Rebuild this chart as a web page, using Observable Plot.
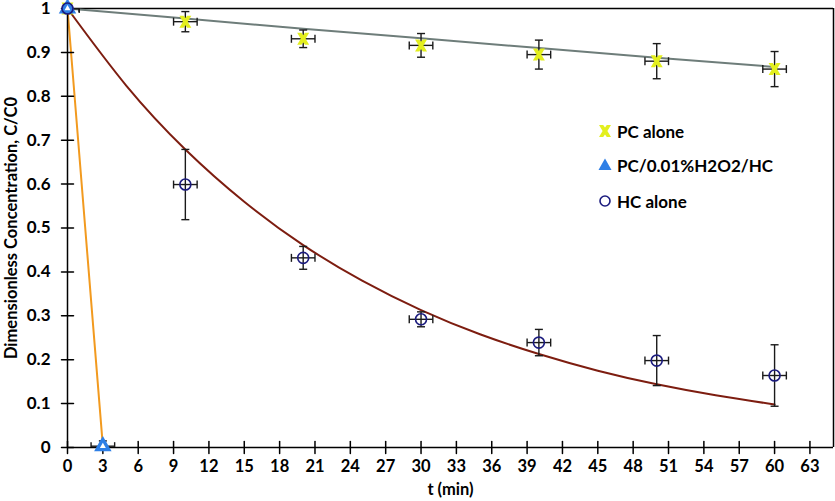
<!DOCTYPE html>
<html>
<head>
<meta charset="utf-8">
<script src="https://cdn.jsdelivr.net/npm/d3@7"></script>
<script src="https://cdn.jsdelivr.net/npm/@observablehq/plot@0.6"></script>
<style>
  html, body { margin: 0; padding: 0; background: #fff; }
  #wrap { position: relative; width: 835px; height: 501px; font-family: Lato, "DejaVu Sans", sans-serif; }
  #legend { position: absolute; left: 597px; top: 0; }
  .item { position: absolute; left: 0; width: 240px; height: 20px; display: flex; align-items: center; font-weight: bold; font-size: 17px; color: #000; white-space: nowrap; }
  .item svg { width: 16px; height: 16px; margin-right: 4px; }
</style>
</head>
<body>
<div id="wrap"><div id="chart"></div><div id="legend"></div></div>
<script>
// ---- data ----
const pcT = [0, 10, 20, 30, 40, 50, 60];
const pcAlone = [1, 0.970, 0.931, 0.916, 0.895, 0.880, 0.862];
const pcAloneErr = [0.005, 0.023, 0.020, 0.027, 0.033, 0.040, 0.040];

const hcT = [0, 10, 20, 30, 40, 50, 60];
const hcAlone = [1, 0.599, 0.432, 0.292, 0.239, 0.198, 0.164];
const hcAloneErr = [0.005, 0.080, 0.026, 0.017, 0.030, 0.057, 0.070];

const comboT = [0, 3];
const combo = [1, 0.003];
const comboErr = [0.005, 0.012];

const tErr = [1, 1, 1, 1, 1, 1, 1];

const pcFitT = [0, 10, 20, 30, 40, 50, 60];
const pcFit = [1, 0.977, 0.954, 0.932, 0.910, 0.888, 0.867];

const hcFitT = [0, 5, 10, 15, 20, 25, 30, 35, 40, 45, 50, 55, 60];
const hcFit = [1, 0.824, 0.679, 0.560, 0.461, 0.380, 0.313, 0.258, 0.213, 0.175, 0.144, 0.119, 0.098];

const xTicks = [0, 3, 6, 9, 12, 15, 18, 21, 24, 27, 30, 33, 36, 39, 42, 45, 48, 51, 54, 57, 60, 63];
const yTicks = [0, 0.1, 0.2, 0.3, 0.4, 0.5, 0.6, 0.7, 0.8, 0.9, 1];
const yTickLabels = ["0", "0.1", "0.2", "0.3", "0.4", "0.5", "0.6", "0.7", "0.8", "0.9", "1"];

const seriesNames = ["PC alone", "PC/0.01%H2O2/HC", "HC alone"];
const xTitle = "t (min)";
const yTitle = "Dimensionless Concentration, C/C0";

// ---- styles ----
const yellow = "#E3EF1E";
const blue = "#2E7FE6";
const navy = "#1B1B7E";
const grey = "#6E7D7A";
const brown = "#7D1D10";
const orange = "#F29A1F";

const rows = (ts, vs, es) => ts.map((t, i) => ({t, v: vs[i], e: es[i], te: tErr[i]}));
const pc = rows(pcT, pcAlone, pcAloneErr);
const hc = rows(hcT, hcAlone, hcAloneErr);
const cb = rows(comboT, combo, comboErr);
const pcFitRows = pcFitT.map((t, i) => ({t, v: pcFit[i]}));
const hcFitRows = hcFitT.map((t, i) => ({t, v: hcFit[i]}));
const allPts = [...pc, ...hc, ...cb];

const rad = size => Math.sqrt(size / Math.PI);
const hourglass = {
  draw(c, size) {
    const r = rad(size);
    c.moveTo(-r, -r); c.lineTo(-r * 0.3, -r); c.lineTo(0, -r * 0.6); c.lineTo(r * 0.3, -r); c.lineTo(r, -r);
    c.lineTo(r * 0.4, 0); c.lineTo(r, r); c.lineTo(r * 0.3, r); c.lineTo(0, r * 0.6); c.lineTo(-r * 0.3, r);
    c.lineTo(-r, r); c.lineTo(-r * 0.4, 0); c.closePath();
  }
};
const hCap = { draw(c, size) { const r = rad(size); c.moveTo(-r, 0); c.lineTo(r, 0); } };
const vCap = { draw(c, size) { const r = rad(size); c.moveTo(0, -r); c.lineTo(0, r); } };
const tickShape = { draw(c, l) { c.moveTo(0, 0); c.lineTo(0, -l); } };

const errStroke = "#1a1a1a";
function errorMarks(data) {
  return [
    Plot.link(data, {x1: "t", x2: "t", y1: d => d.v - d.e, y2: d => d.v + d.e, stroke: errStroke, strokeWidth: 1.4, clip: true}),
    Plot.link(data, {x1: d => d.t - d.te, x2: d => d.t + d.te, y1: "v", y2: "v", stroke: errStroke, strokeWidth: 1.4, clip: true}),
    Plot.dot(data, {x: "t", y: d => d.v - d.e, symbol: hCap, r: 4, stroke: errStroke, strokeWidth: 1.4, clip: true}),
    Plot.dot(data, {x: "t", y: d => d.v + d.e, symbol: hCap, r: 4, stroke: errStroke, strokeWidth: 1.4, clip: true}),
    Plot.dot(data, {x: d => d.t - d.te, y: "v", symbol: vCap, r: 4, stroke: errStroke, strokeWidth: 1.4, clip: true}),
    Plot.dot(data, {x: d => d.t + d.te, y: "v", symbol: vCap, r: 4, stroke: errStroke, strokeWidth: 1.4, clip: true})
  ];
}

const chart = Plot.plot({
  width: 835,
  height: 501,
  marginLeft: 67,
  marginRight: 2,
  marginTop: 8,
  marginBottom: 54,
  style: {fontFamily: "Lato, 'DejaVu Sans', sans-serif", background: "#fff", overflow: "visible"},
  x: {domain: [0, 65]},
  y: {domain: [0, 1]},
  marks: [
    // frame: top and right
    Plot.ruleY([1], {stroke: "#000", strokeWidth: 1.5}),
    Plot.ruleX([65], {stroke: "#000", strokeWidth: 1.5}),
    // fitted curves
    Plot.line(pcFitRows, {x: "t", y: "v", stroke: grey, strokeWidth: 2}),
    Plot.line(hcFitRows, {x: "t", y: "v", stroke: brown, strokeWidth: 2, curve: "natural"}),
    Plot.line(cb, {x: "t", y: "v", stroke: orange, strokeWidth: 2}),
    // axes lines
    Plot.ruleY([0], {stroke: "#000", strokeWidth: 1.5}),
    Plot.ruleX([0], {stroke: "#000", strokeWidth: 1.5}),
    // crossing ticks
    Plot.vector(xTicks, {x: d => d, y: 0, length: 12, anchor: "middle", shape: tickShape, stroke: "#000", strokeWidth: 1.5}),
    Plot.vector(yTicks, {x: 0, y: d => d, length: 12, rotate: 90, anchor: "middle", shape: tickShape, stroke: "#000", strokeWidth: 1.5}),
    Plot.axisX({ticks: xTicks, tickSize: 0, tickPadding: 13, fontSize: 16.5, fontWeight: "bold", fill: "#000", label: null}),
    Plot.axisY({ticks: yTicks, tickSize: 0, tickPadding: 17, fontSize: 17, fontWeight: "bold", fill: "#000", label: null, tickFormat: (d, i) => yTickLabels[i]}),
    // titles
    Plot.text([xTitle], {frameAnchor: "bottom", dy: 47, fontSize: 16.5, fontWeight: "bold", fill: "#000"}),
    Plot.text([yTitle], {frameAnchor: "left", textAnchor: "middle", dx: -56, rotate: -90, fontSize: 16.5, fontWeight: "bold", fill: "#000"}),
    // error bars
    ...errorMarks(allPts),
    // markers
    Plot.dot(pc, {x: "t", y: "v", symbol: hourglass, r: 6, fill: yellow}),
    Plot.dot(cb, {x: "t", y: "v", symbol: "triangle", r: 6.5, fill: blue}),
    Plot.dot(cb, {x: "t", y: "v", symbol: "triangle", r: 2.2, fill: "#fff"}),
    Plot.dot(hc, {x: "t", y: "v", symbol: "circle", r: 5.5, fill: "none", stroke: navy, strokeWidth: 1.6})
  ]
});
document.getElementById("chart").appendChild(chart);

// legend overlay
const legendTops = [121, 155, 191];
const legendIcons = [
  `<svg viewBox="-8 -8 16 16"><path d="M-6,-6L-1.8,-6L0,-3.6L1.8,-6L6,-6L2.4,0L6,6L1.8,6L0,3.6L-1.8,6L-6,6L-2.4,0Z" fill="${yellow}"/></svg>`,
  `<svg viewBox="-8 -8 16 16"><path d="M0,-6.5L6.5,5L-6.5,5Z" fill="${blue}"/></svg>`,
  `<svg viewBox="-8 -8 16 16"><circle r="5" fill="none" stroke="${navy}" stroke-width="1.6"/></svg>`
];
const legend = document.getElementById("legend");
seriesNames.forEach((name, i) => {
  const div = document.createElement("div");
  div.className = "item";
  div.style.top = legendTops[i] + "px";
  div.innerHTML = legendIcons[i] + `<span>${name}</span>`;
  legend.appendChild(div);
});
</script>
</body>
</html>
